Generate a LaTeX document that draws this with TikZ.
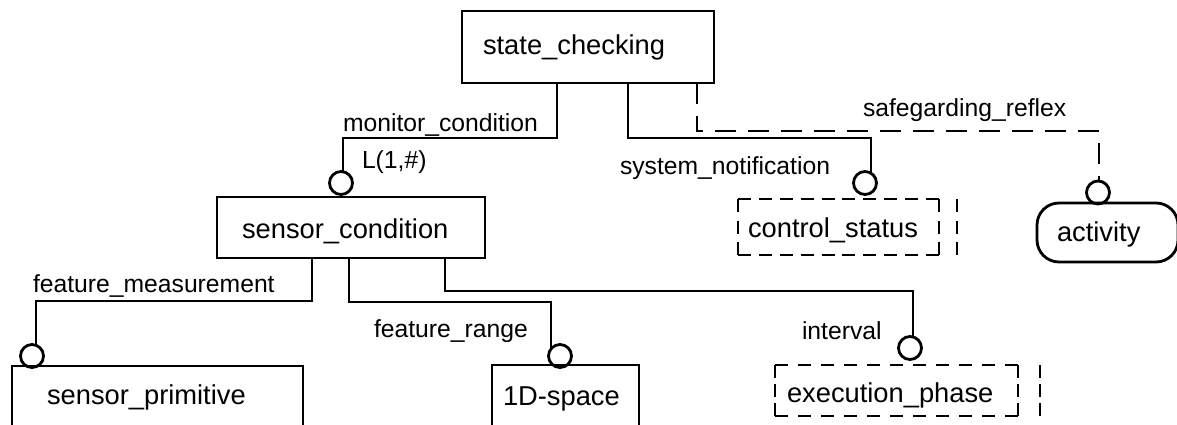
\documentclass[tikz,border=0pt]{standalone}
\usepackage{fontspec}
\setmainfont{Liberation Sans}
\usetikzlibrary{calc,backgrounds}
\begin{document}
\begin{tikzpicture}[x=1pt,y=-1pt,
  stroke/.style={line width=2.8pt},
  boxtext/.style={font=\fontsize{27.3}{30}\selectfont, align=left, inner ysep=0pt, outer sep=0pt, anchor=north west, text depth=0pt},
  solidbox/.style={boxtext, draw, stroke},
  dashedbox/.style={boxtext},
  roundbox/.style={boxtext, draw, stroke, rounded corners=22pt},
  lbl/.style={font=\fontsize{24.7}{28}\selectfont, anchor=base west, inner sep=0pt, outer sep=0pt},
  port/.style={circle, draw, stroke, fill=white, minimum size=23pt, inner sep=0pt, outer sep=0pt},
  conn/.style={stroke},
  dconn/.style={stroke, dash pattern=on 21pt off 12pt},
  bdash/.style={stroke, dash pattern=on 13pt off #1},
  bdash/.default=8pt]
\useasboundingbox (0,0) rectangle (1177,425);
\clip (0,0) rectangle (1177,425);

% ports (drawn before boxes so box edges lie on top)
\node[port] (c1) at (341,183) {};
\node[port] (c2) at (865,183) {};
\node[port] (c3) at (1098,192.5) {};
\node[port] (c4) at (32,356) {};
\node[port] (c5) at (560,356) {};
\node[port] (c6) at (910,348) {};

% boxes
\node[solidbox, minimum width=252pt, text width=210pt, inner xsep=21pt, minimum height=72pt, text height=16pt] (sc) at (462,11) {state\_checking};
\node[solidbox, minimum width=268pt, text width=218pt, inner xsep=25pt, minimum height=61pt, text height=21pt] (scond) at (217,197) {sensor\_condition};
\node[dashedbox, minimum width=201pt, text width=181pt, inner xsep=10pt, minimum height=56pt, text height=21pt] (cs) at (738,199) {control\_status};
\node[roundbox, minimum width=141pt, text width=101pt, inner xsep=20pt, minimum height=59pt, text height=17pt] (act) at (1037,203) {activity};
\node[solidbox, minimum width=291pt, text width=221pt, inner xsep=35pt, minimum height=62pt, text height=14pt] (sp) at (12,366) {sensor\_primitive};
\node[solidbox, minimum width=147pt, text width=125pt, inner xsep=11pt, minimum height=63pt, text height=17pt] (ds) at (492,365) {1D-space};
\node[dashedbox, minimum width=243pt, text width=219pt, inner xsep=12pt, minimum height=51pt, text height=23pt] (ep) at (775,365) {execution\_phase};

% dashed borders (each side starts and ends with a dash)
\draw[bdash=7.89pt] (cs.north west) -- (cs.north east);
\draw[bdash=7.89pt] (cs.south west) -- (cs.south east);
\draw[bdash=8.5pt] (cs.north west) -- (cs.south west);
\draw[bdash=8.5pt] (cs.north east) -- (cs.south east);
\draw[bdash=8.5pt] ([xshift=18pt]cs.north east) -- ([xshift=18pt]cs.south east);
\draw[bdash=10pt] (ep.north west) -- (ep.north east);
\draw[bdash=10pt] (ep.south west) -- (ep.south east);
\draw[bdash=6pt] (ep.north west) -- (ep.south west);
\draw[bdash=6pt] (ep.north east) -- (ep.south east);
\draw[bdash=6pt] ([xshift=22pt]ep.north east) -- ([xshift=22pt]ep.south east);

% labels
\node[lbl] (l1) at (343,131.5) {monitor\_condition};
\node[lbl] (l1m) at (362,168) {L(1,\#)};
\node[lbl] (l2) at (620,174) {system\_notification};
\node[lbl] (l3) at (863,117) {safegarding\_reflex};
\node[lbl] (l4) at (33,292) {feature\_measurement};
\node[lbl] (l5) at (374,337) {feature\_range};
\node[lbl] (l6) at (802,339) {interval};

% connectors
\begin{scope}[on background layer]
  \coordinate (m1a) at (557,138); \coordinate (m1b) at (343,138);
  \draw[conn] (sc.south -| m1a) -- (m1a) -- (m1b) -- (m1b |- c1);
  \coordinate (m2a) at (628,138); \coordinate (m2b) at (871,138);
  \draw[conn] (sc.south -| m2a) -- (m2a) -- (m2b) -- (m2b |- c2);
  \coordinate (m3a) at (697,131); \coordinate (m3b) at (1099,131);
  \draw[dconn] (sc.south -| m3a) -- (m3a) -- (m3b) -- (m3b |- c3);
  \coordinate (m4a) at (312,301); \coordinate (m4b) at (36,301);
  \draw[conn] (scond.south -| m4a) -- (m4a) -- (m4b) -- (m4b |- c4);
  \coordinate (m5a) at (349,302); \coordinate (m5b) at (551,302);
  \draw[conn] (scond.south -| m5a) -- (m5a) -- (m5b) -- (m5b |- c5);
  \coordinate (m6a) at (445,291); \coordinate (m6b) at (913,291);
  \draw[conn] (scond.south -| m6a) -- (m6a) -- (m6b) -- (m6b |- c6);
\end{scope}
\end{tikzpicture}
\end{document}
